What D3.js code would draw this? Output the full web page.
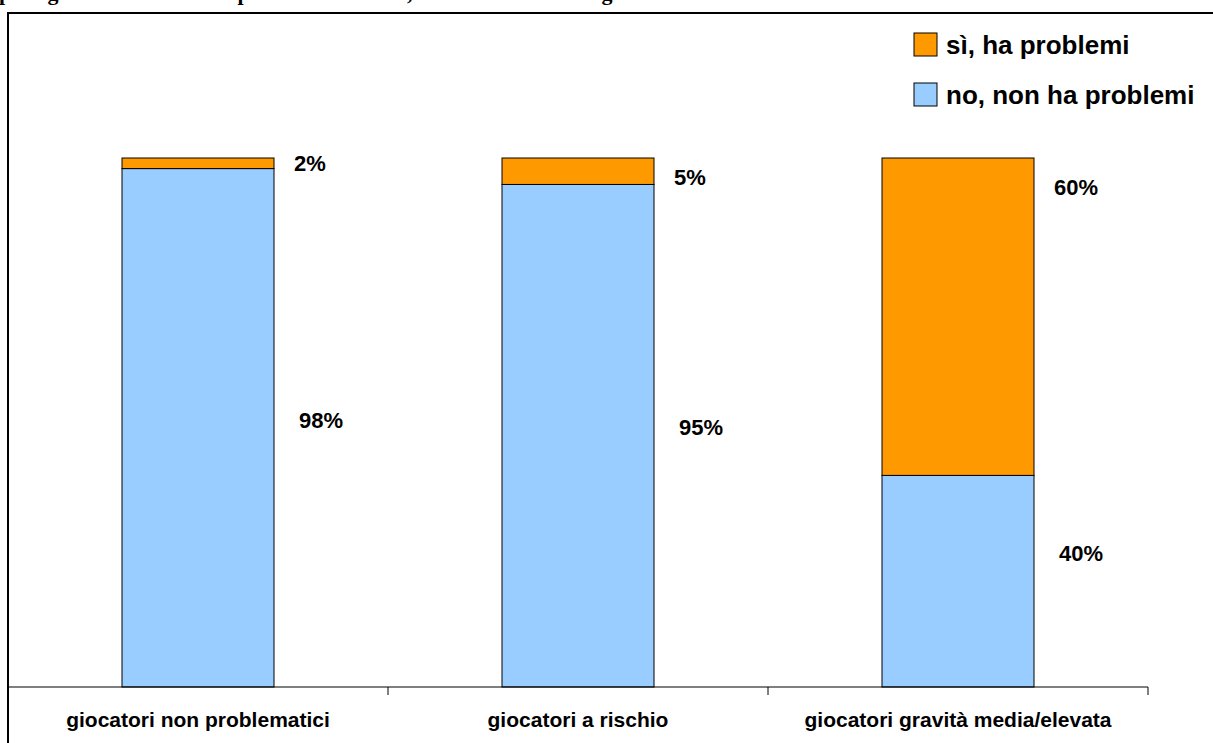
<!DOCTYPE html>
<html>
<head>
<meta charset="utf-8">
<script src="https://cdn.jsdelivr.net/npm/d3@7"></script>
<style>
  html, body { margin: 0; padding: 0; background: #fff; overflow: hidden; }
  svg { display: block; }
</style>
</head>
<body>
<svg id="chart" width="1213" height="743"></svg>
<script>
// ---- data ----
const titleText = "per i giocatori che hanno problemi di salute, secondo il livello di gioco";
const categories = ["giocatori non problematici", "giocatori a rischio", "giocatori gravità media/elevata"];
const seriesNames = ["sì, ha problemi", "no, non ha problemi"];
const valuesSi = [2, 5, 60];
const valuesNo = [98, 95, 40];
const labelsSi = ["2%", "5%", "60%"];
const labelsNo = ["98%", "95%", "40%"];
// vertical anchor (in value units) of each data label
const anchorSi = [99.0, 96.4, 94.5];
const anchorNo = [50.5, 49.0, 25.3];

const colors = { si: "#FF9900", no: "#99CCFF" };

const svg = d3.select("#chart");
const W = 1213, H = 743;
const margin = { left: 8, right: 65, top: 158, bottom: 56 };

// frame (right and bottom edges run off the picture)
svg.append("rect")
  .attr("x", 8).attr("y", 13)
  .attr("width", W + 20).attr("height", H + 20)
  .attr("fill", "none").attr("stroke", "#000").attr("stroke-width", 2);

// cropped title
svg.append("text")
  .attr("x", -1).attr("y", 0)
  .attr("font-family", "'Liberation Serif', 'Times New Roman', serif")
  .attr("font-weight", "bold").attr("font-size", 22)
  .text(titleText);

const x = d3.scaleBand().domain(categories)
  .range([margin.left, W - margin.right]).paddingInner(0).paddingOuter(0);
const y = d3.scaleLinear().domain([0, 100]).range([H - margin.bottom, margin.top]);

const barW = x.bandwidth() * 0.4;
const bx = c => x(c) + (x.bandwidth() - barW) / 2;

const rows = categories.map((c, i) => ({ cat: c, no: valuesNo[i], si: valuesSi[i] }));
const stack = d3.stack().keys(["no", "si"])(rows);

const g = svg.append("g");
stack.forEach(layer => {
  g.selectAll(null).data(layer).enter().append("rect")
    .attr("x", d => bx(d.data.cat))
    .attr("y", d => y(d[1]))
    .attr("width", barW)
    .attr("height", d => y(d[0]) - y(d[1]))
    .attr("fill", colors[layer.key])
    .attr("stroke", "#000").attr("stroke-width", 1);
});

// data labels
const labFont = "'Liberation Sans', Arial, Helvetica, sans-serif";
categories.forEach((c, i) => {
  const right = bx(c) + barW;
  svg.append("text").attr("x", right + 20).attr("y", y(anchorSi[i]))
    .attr("dy", "0.35em")
    .attr("font-family", labFont).attr("font-weight", "bold").attr("font-size", 22)
    .text(labelsSi[i]);
  svg.append("text").attr("x", right + 25).attr("y", y(anchorNo[i]))
    .attr("dy", "0.35em")
    .attr("font-family", labFont).attr("font-weight", "bold").attr("font-size", 22)
    .text(labelsNo[i]);
});

// x axis
const axisY = y(0);
const axis = svg.append("g").attr("transform", `translate(0,${axisY})`);
axis.append("line")
  .attr("x1", x.range()[0]).attr("x2", x.range()[1])
  .attr("y1", 0).attr("y2", 0)
  .attr("stroke", "#000").attr("stroke-width", 1.2);
axis.selectAll(".tick").data(categories).enter().append("line")
  .attr("x1", c => x(c) + x.bandwidth()).attr("x2", c => x(c) + x.bandwidth())
  .attr("y1", 0).attr("y2", 8)
  .attr("stroke", "#000").attr("stroke-width", 1);
axis.selectAll(".lab").data(categories).enter().append("text")
  .attr("x", c => x(c) + x.bandwidth() / 2)
  .attr("y", 40)
  .attr("text-anchor", "middle")
  .attr("font-family", labFont).attr("font-weight", "bold").attr("font-size", 21)
  .text(c => c);

// legend
const legend = svg.append("g");
const legItems = [
  { name: seriesNames[0], color: colors.si },
  { name: seriesNames[1], color: colors.no }
];
legItems.forEach((d, i) => {
  const ly = 33 + i * 50;
  legend.append("rect").attr("x", 914).attr("y", ly).attr("width", 23).attr("height", 23)
    .attr("fill", d.color).attr("stroke", "#000").attr("stroke-width", 1);
  legend.append("text").attr("x", 946).attr("y", ly + 21)
    .attr("font-family", labFont).attr("font-weight", "bold").attr("font-size", 26)
    .text(d.name);
});
</script>
</body>
</html>
